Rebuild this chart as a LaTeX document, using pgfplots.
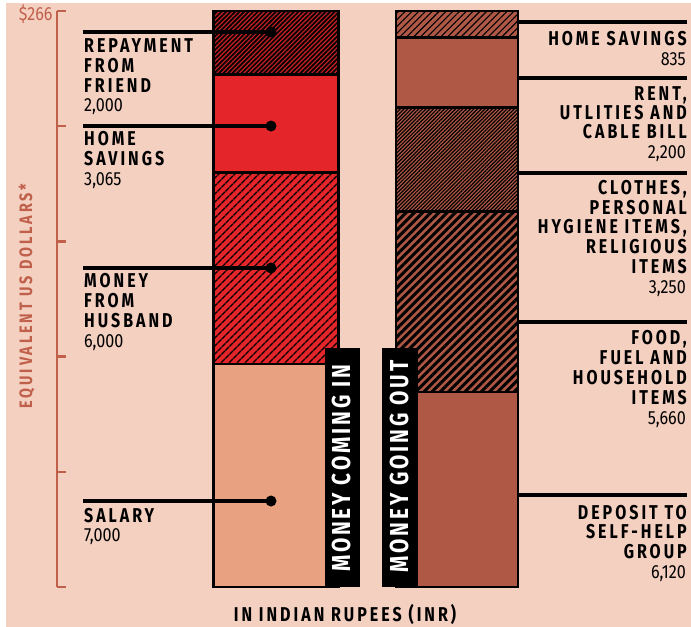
\documentclass[border=0pt]{standalone}
\usepackage{pgfplots}
\pgfplotsset{compat=1.18}
\usetikzlibrary{patterns.meta}
\usepackage{fontspec}
\setmainfont{Fira Sans}
\newfontfamily\fA[FakeStretch=0.80,LetterSpace=15]{Fira Sans}
\newfontfamily\fB[FakeStretch=0.80,LetterSpace=11]{Fira Sans}
\newfontfamily\fC[FakeStretch=0.80,LetterSpace=16]{Fira Sans}
\newfontfamily\fN[FakeStretch=0.85]{Fira Sans}

\definecolor{bg}{HTML}{F4D0C1}
\definecolor{salary}{HTML}{E8A282}
\definecolor{cred}{HTML}{E4262A}
\definecolor{cbrown}{HTML}{AF5845}
\definecolor{axbrown}{HTML}{C0604B}

\newcommand\lab[1]{{\fA\bfseries\fontsize{20bp}{22bp}\selectfont #1}}
\newcommand\num[1]{{\fN\fontsize{19bp}{21bp}\selectfont #1}}
\newcommand\Ll[2]{\node[anchor=base west,inner sep=0] at (84,#1) {\lab{#2}};}
\newcommand\Ln[2]{\node[anchor=base west,inner sep=0] at (84,#1) {\num{#2}};}
\newcommand\Rl[2]{\node[anchor=base east,inner sep=0] at (687,#1) {\lab{#2}};}
\newcommand\Rn[2]{\node[anchor=base east,inner sep=0] at (686,#1) {\num{#2}};}

\tikzset{hatch/.style 2 args={postaction={pattern={Lines[angle=45,distance=#1,line width=#2]}, pattern color=black}}}

\pgfplotsset{
  base/.style={scale only axis, width=691bp, height=627bp, at={(0,0)}, anchor=south west,
    xmin=0, xmax=691, ymin=-1254.5, ymax=18410, hide axis, clip=false, ybar stacked,
    every axis plot/.append style={draw=black, line width=2.6bp}},
}

\begin{document}
\begin{tikzpicture}
\begin{scope}[x=1bp,y=-1bp,shift={(0,627bp)}]
  \fill[white] (0,0) rectangle (691,627);
  \fill[bg] (6,3) rectangle (691,627);
\end{scope}

% left bar: money coming in
\begin{axis}[base, bar width=125]
\addplot[fill=salary] coordinates {(276,7000)};
\addplot[fill=cred, hatch={6.0bp}{1.7bp}] coordinates {(276,6000)};
\addplot[fill=cred] coordinates {(276,3065)};
\addplot[fill=cred!85!black, hatch={3.2bp}{1.7bp}] coordinates {(276,2000)};
\end{axis}

% right bar: money going out
\begin{axis}[base, bar width=122]
\addplot[fill=cbrown] coordinates {(457,6120)};
\addplot[fill=cbrown, hatch={5.8bp}{3.0bp}] coordinates {(457,5660)};
\addplot[fill=cbrown, hatch={2.6bp}{1.2bp}] coordinates {(457,3250)};
\addplot[fill=cbrown] coordinates {(457,2200)};
\addplot[fill=cbrown, hatch={4.8bp}{1.1bp}] coordinates {(457,835)};
% leaders
\pgfplotsinvokeforeach{17406,14458,10005,2697}{
  \draw[line width=3.4bp] (axis cs:83,#1) -- (axis cs:271,#1);
  \fill (axis cs:271,#1) circle[radius=5.5bp];
}
\pgfplotsinvokeforeach{17720,15964,12984,8311,2885}{
  \draw[line width=3.4bp] (axis cs:462,#1) -- (axis cs:687,#1);
  \fill (axis cs:462,#1) circle[radius=5.5bp];
}
\end{axis}

% USD bracket axis
\begin{axis}[scale only axis, at={(57bp,40bp)}, anchor=south west, width=10bp, height=576bp,
  xmin=0, xmax=1, ymin=0, ymax=266, axis x line=none, axis y line=left,
  axis line style={-, draw=axbrown, line width=2.4bp},
  ytick={0,53.2,106.4,159.6,212.8,266}, yticklabels={,,,,,\$266},
  tick align=inside, major tick length=9bp,
  tick style={draw=axbrown, line width=2.4bp},
  yticklabel style={font=\fN\fontsize{19bp}{21bp}\selectfont, text=axbrown, xshift=-1bp, yshift=-3bp}]
\end{axis}

\begin{scope}[x=1bp,y=-1bp,shift={(0,627bp)}]
  \node[rotate=90, anchor=base, inner sep=0, text=axbrown] at (32,296)
    {\fC\bfseries\fontsize{18bp}{20bp}\selectfont EQUIVALENT US DOLLARS*};
  % left labels
  \Ll{53}{REPAYMENT}\Ll{73}{FROM}\Ll{93}{FRIEND}\Ln{112}{2,000}
  \Ll{146}{HOME}\Ll{166}{SAVINGS}\Ln{186}{3,065}
  \Ll{288}{MONEY}\Ll{308}{FROM}\Ll{328}{HUSBAND}\Ln{348}{6,000}
  \Ll{523}{SALARY}\Ln{542}{7,000}
  % right labels
  \Rl{46}{HOME SAVINGS}\Rn{66}{835}
  \Rl{101}{RENT,}\Rl{120}{UTLITIES AND}\Rl{139}{CABLE BILL}\Rn{159}{2,200}
  \Rl{195}{CLOTHES,}\Rl{215}{PERSONAL}\Rl{234}{HYGIENE ITEMS,}\Rl{254}{RELIGIOUS}\Rl{274}{ITEMS}\Rn{294}{3,250}
  \Rl{345}{FOOD,}\Rl{365}{FUEL AND}\Rl{385}{HOUSEHOLD}\Rl{405}{ITEMS}\Rn{425}{5,660}
  \Rl{520}{DEPOSIT TO}\Rl{539}{SELF-HELP}\Rl{559}{GROUP}\Rn{579}{6,120}
  % black boxes
  \fill[black] (325,348) rectangle (360,587);
  \node[rotate=90, anchor=base, inner sep=0, text=white] at (350,468.5)
    {\fB\bfseries\fontsize{26bp}{28bp}\selectfont MONEY COMING IN};
  \fill[black] (382,348) rectangle (418,587);
  \node[rotate=90, anchor=base, inner sep=0, text=white] at (408,466.5)
    {\fB\bfseries\fontsize{26bp}{28bp}\selectfont MONEY GOING OUT};
  % x label
  \node[anchor=base, inner sep=0] at (345,622) {\lab{IN INDIAN RUPEES (INR)}};
\end{scope}
\end{tikzpicture}
\end{document}
